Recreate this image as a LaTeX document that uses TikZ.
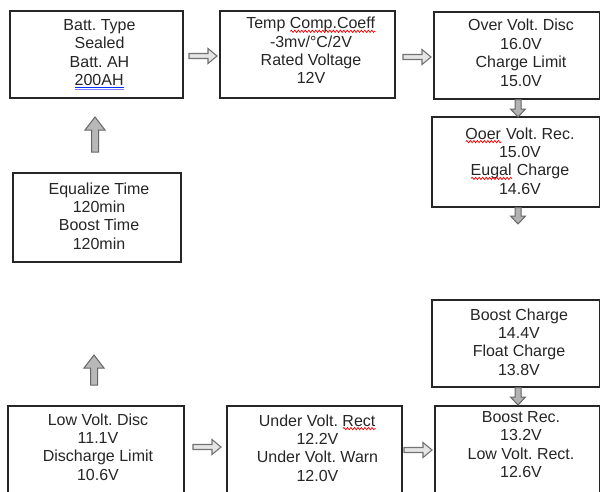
\documentclass[tikz,border=0pt]{standalone}
\usepackage{fontspec}
\setmainfont{Liberation Sans}
\usetikzlibrary{decorations.pathmorphing}
\frenchspacing
\newlength\wlen
\newcommand{\redwave}[1]{\settowidth\wlen{#1}\rlap{#1}\tikz[baseline=0pt]\draw[red!90!black, line width=0.7pt, decorate, decoration={snake, amplitude=1.1pt, segment length=3.5pt}] (0pt,-2.6pt) -- (\wlen,-2.6pt);}
\newcommand{\blueuu}[1]{\settowidth\wlen{#1}\rlap{#1}\tikz[baseline=0pt]{\draw[blue!80!cyan, line width=0.7pt] (0pt,-2pt) -- (\wlen,-2pt); \draw[blue!50, line width=0.5pt] (0pt,-3.9pt) -- (\wlen,-3.9pt);}}
\newcommand{\rblk}[3]{\draw[harr] (#1,#3-2.5) -- (#2-9,#3-2.5) -- (#2-9,#3-7.5) -- (#2,#3) -- (#2-9,#3+7.5) -- (#2-9,#3+2.5) -- (#1,#3+2.5) -- cycle;}
\newcommand{\dblk}[3]{\draw[varr] (#1-3,#2) -- (#1-3,#3-8) -- (#1-7.5,#3-8) -- (#1,#3) -- (#1+7.5,#3-8) -- (#1+3,#3-8) -- (#1+3,#2) -- cycle;}
\newcommand{\ublk}[3]{\draw[uarr] (#1-3.5,#2) -- (#1-3.5,#3+13) -- (#1-10,#3+13) -- (#1,#3) -- (#1+10,#3+13) -- (#1+3.5,#3+13) -- (#1+3.5,#2) -- cycle;}
\tikzset{
  box/.style={draw=black!85, line width=1.2pt, inner sep=0pt, rectangle},
  txt/.style={anchor=north, align=center, inner sep=0pt, font=\fontsize{16}{18.4}\selectfont, text=black!85},
  harr/.style={draw=black!55, fill=black!10, line width=1.1pt},
  varr/.style={draw=black!60, fill=black!30, line width=1pt},
  uarr/.style={draw=black!60, fill=black!28, line width=1pt},
}
\begin{document}
\begin{tikzpicture}[x=1pt, y=-1pt]
\clip (0,0) rectangle (601,491);
\fill[white] (0,0) rectangle (601,491);
% boxes
\node[box, minimum width=173, minimum height=87] (b1) at (96.5,54.5) {};
\node[box, minimum width=175, minimum height=87] (b2) at (307.5,54.5) {};
\node[box, minimum width=165.5, minimum height=87] (b3) at (516.75,55.5) {};
\node[box, minimum width=167.5, minimum height=90] (b4) at (515.75,162) {};
\node[box, minimum width=168, minimum height=89] (b5) at (97,217.5) {};
\node[box, minimum width=167.5, minimum height=87] (b6) at (515.75,343.5) {};
\node[box, minimum width=176, minimum height=94] (b7) at (96,453) {};
\node[box, minimum width=175, minimum height=94] (b8) at (314.5,453) {};
\node[box, minimum width=164.5, minimum height=94] (b9) at (517.25,453) {};
% texts
\node[txt] (t1) at (99.5,19.2) {Batt. Type\\Sealed\\Batt. AH\\\blueuu{200AH}};
\node[txt] (t2) at (311,16.9) {Temp \redwave{Comp.Coeff}\\-3mv/°C/2V\\Rated Voltage\\12V};
\node[txt] (t3) at (521,19.2) {Over Volt. Disc\\16.0V\\Charge Limit\\15.0V};
\node[txt] (t4) at (520,127.2) {\redwave{Ooer} Volt. Rec.\\15.0V\\\redwave{Eugal} Charge\\14.6V};
\node[txt] (t5) at (99,182.2) {Equalize Time\\120min\\Boost Time\\120min};
\node[txt] (t6) at (519,308.2) {Boost Charge\\14.4V\\Float Charge\\13.8V};
\node[txt] (t7) at (98,413.2) {Low Volt. Disc\\11.1V\\Discharge Limit\\10.6V};
\node[txt] (t8) at (317.5,414.2) {Under Volt. \redwave{Rect}\\12.2V\\Under Volt. Warn\\12.0V};
\node[txt] (t9) at (521,411.2) {Boost Rec.\\13.2V\\Low Volt. Rect.\\12.6V};
% block arrows
\rblk{189}{217}{56}
\rblk{403}{431}{57}
\rblk{193}{221}{447}
\rblk{404}{432}{450}
\dblk{518}{99.5}{117}
\dblk{518}{207.5}{224}
\dblk{518}{387.5}{405}
\ublk{95}{152}{117}
\ublk{94}{385}{355}
\end{tikzpicture}
\end{document}
